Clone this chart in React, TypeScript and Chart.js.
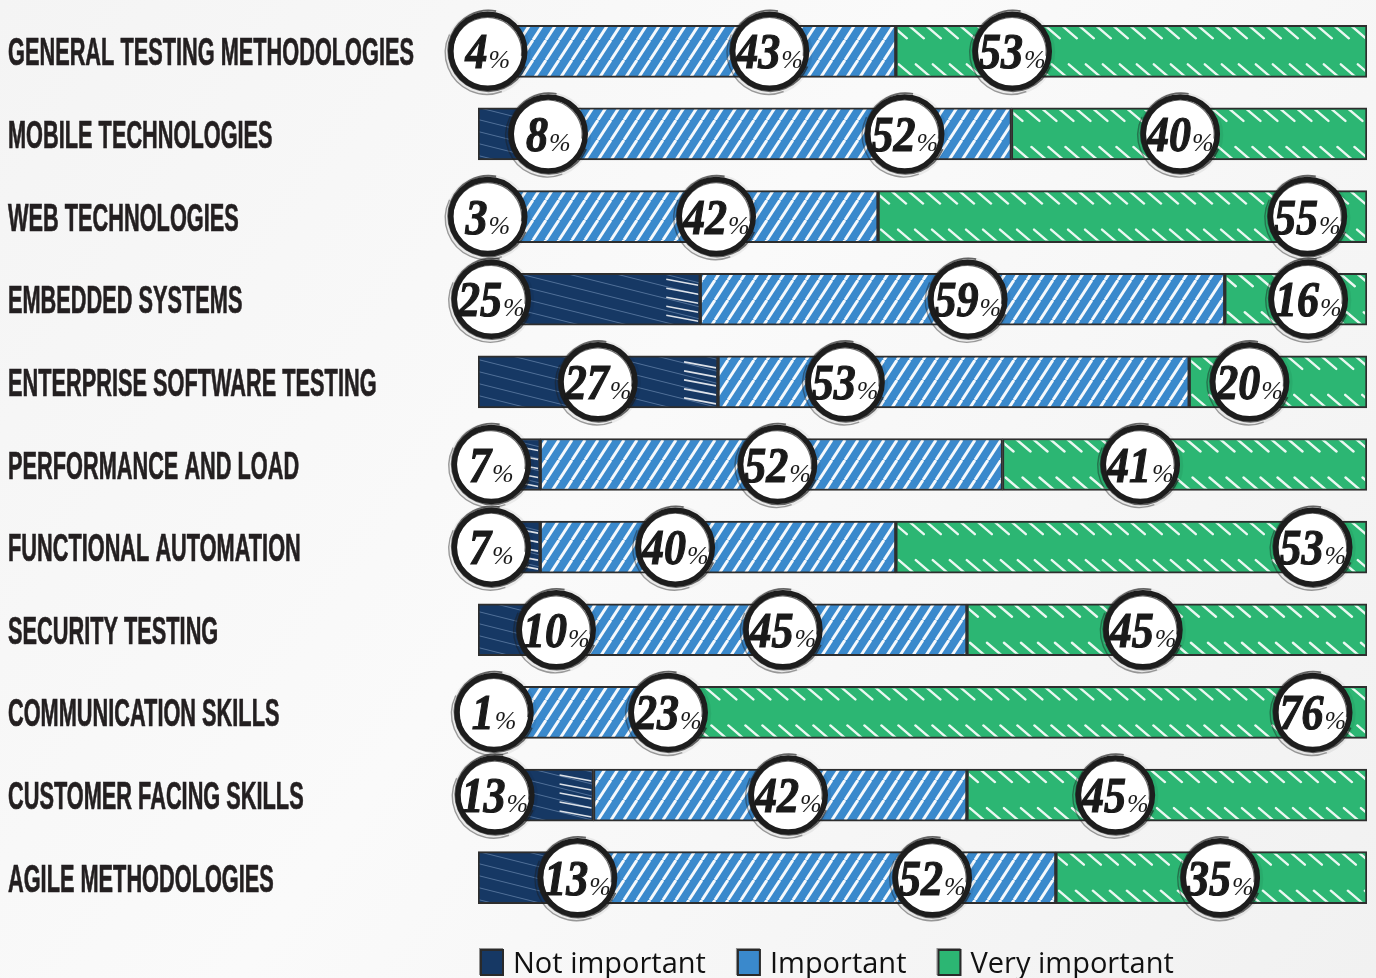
import React, { useEffect, useRef } from "react";
import { Chart, registerables } from "chart.js";

Chart.register(...registerables);

// ---------- data ----------
const categories = [
  "GENERAL TESTING METHODOLOGIES",
  "MOBILE TECHNOLOGIES",
  "WEB TECHNOLOGIES",
  "EMBEDDED SYSTEMS",
  "ENTERPRISE SOFTWARE TESTING",
  "PERFORMANCE AND LOAD",
  "FUNCTIONAL AUTOMATION",
  "SECURITY TESTING",
  "COMMUNICATION SKILLS",
  "CUSTOMER FACING SKILLS",
  "AGILE METHODOLOGIES",
];
const notImportant = [4, 8, 3, 25, 27, 7, 7, 10, 1, 13, 13];
const important = [43, 52, 42, 59, 53, 52, 40, 45, 23, 42, 52];
const veryImportant = [53, 40, 55, 16, 20, 41, 53, 45, 76, 45, 35];
const seriesNames = ["Not important", "Important", "Very important"];
const seriesColors = ["#163864", "#3a89cc", "#2cb673"];
// where each value badge sits along the 0–100 axis
const notBadgeAt = [1.1, 7.9, 1.1, 1.5, 13.5, 1.5, 1.5, 8.8, 1.8, 1.9, 11.2];
const impBadgeAt = [32.8, 48.0, 26.8, 55.1, 41.3, 33.7, 22.2, 34.3, 21.4, 34.9, 51.1];
const veryBadgeAt = [60.1, 79.0, 93.3, 93.4, 86.8, 74.5, 93.9, 74.8, 93.9, 71.7, 83.5];

const W = 1376;
const H = 978;

function makeBluePattern(ctx: CanvasRenderingContext2D) {
  const c = document.createElement("canvas");
  const w = 13, h = 20;
  c.width = w; c.height = h;
  const g = c.getContext("2d")!;
  g.fillStyle = seriesColors[1];
  g.fillRect(0, 0, w, h);
  g.strokeStyle = "rgba(255,255,255,0.95)";
  g.lineWidth = 3;
  for (const dx of [-w, 0, w]) {
    g.beginPath();
    g.moveTo(dx, h);
    g.lineTo(dx + w, 0);
    g.stroke();
  }
  return ctx.createPattern(c, "repeat")!;
}

function makeNavyPattern(ctx: CanvasRenderingContext2D) {
  const c = document.createElement("canvas");
  const w = 48, h = 12;
  c.width = w; c.height = h;
  const g = c.getContext("2d")!;
  g.fillStyle = seriesColors[0];
  g.fillRect(0, 0, w, h);
  g.strokeStyle = "rgba(170,195,230,0.4)";
  g.lineWidth = 1;
  for (const dy of [-h, 0, h]) {
    g.beginPath();
    g.moveTo(0, dy);
    g.lineTo(w, dy + h);
    g.stroke();
  }
  return ctx.createPattern(c, "repeat")!;
}

const decorPlugin = {
  id: "decor",
  beforeDraw(chart: any) {
    const ctx = chart.ctx as CanvasRenderingContext2D;
    ctx.save();
    const gr = ctx.createLinearGradient(0, 0, chart.width, chart.height);
    gr.addColorStop(0, "#f4f4f4");
    gr.addColorStop(0.45, "#fafafa");
    gr.addColorStop(1, "#f1f1f1");
    ctx.fillStyle = gr;
    ctx.fillRect(0, 0, chart.width, chart.height);
    ctx.restore();
  },
  afterDatasetsDraw(chart: any) {
    const ctx = chart.ctx as CanvasRenderingContext2D;
    const xs = chart.scales.x;
    const ys = chart.scales.y;

    // white scribble marks on the right end of navy bars
    const meta0 = chart.getDatasetMeta(0);
    meta0.data.forEach((el: any) => {
      const p = el.getProps(["x", "y", "base", "height"], true);
      const left = Math.min(p.x, p.base), right = Math.max(p.x, p.base);
      const top = p.y - p.height / 2, bottom = p.y + p.height / 2;
      if (right - left < 30) return;
      ctx.save();
      ctx.beginPath();
      ctx.rect(left + 2, top + 2, right - left - 4, bottom - top - 4);
      ctx.clip();
      ctx.strokeStyle = "rgba(255,255,255,0.85)";
      ctx.lineWidth = 1.6;
      for (let y = top + 6; y < bottom - 2; y += 9) {
        ctx.beginPath();
        ctx.moveTo(right - 34, y);
        ctx.lineTo(right - 2, y + 6);
        ctx.stroke();
      }
      ctx.restore();
    });

    // sketchy white strokes on green bars
    const meta2 = chart.getDatasetMeta(2);
    meta2.data.forEach((el: any) => {
      const p = el.getProps(["x", "y", "base", "height"], true);
      const left = Math.min(p.x, p.base), right = Math.max(p.x, p.base);
      const top = p.y - p.height / 2, bottom = p.y + p.height / 2;
      ctx.save();
      ctx.beginPath();
      ctx.rect(left + 2, top + 2, right - left - 4, bottom - top - 4);
      ctx.clip();
      ctx.strokeStyle = "rgba(255,255,255,0.9)";
      ctx.lineWidth = 2.4;
      ctx.lineCap = "round";
      for (let x = left - 20; x < right + 20; x += 17) {
        ctx.beginPath();
        ctx.moveTo(x, top + 1);
        ctx.lineTo(x + 14, top + 13);
        ctx.stroke();
        ctx.beginPath();
        ctx.moveTo(x + 6, bottom - 13);
        ctx.lineTo(x + 20, bottom - 1);
        ctx.stroke();
      }
      ctx.restore();
    });

    // value badges
    const values = [notImportant, important, veryImportant];
    const badges = [notBadgeAt, impBadgeAt, veryBadgeAt];
    const numFont = "bold italic 50px 'Liberation Serif', 'DejaVu Serif', serif";
    const pctFont = "italic 26px 'Liberation Serif', 'DejaVu Serif', serif";
    for (let d = 0; d < 3; d++) {
      for (let i = 0; i < categories.length; i++) {
        const cx = xs.getPixelForValue(badges[d][i]);
        const cy = ys.getPixelForValue(i);
        ctx.save();
        ctx.beginPath();
        ctx.arc(cx, cy + 1, 43, 0, Math.PI * 2);
        ctx.fillStyle = "rgba(0,0,0,0.06)";
        ctx.fill();
        ctx.beginPath();
        ctx.arc(cx, cy, 37, 0, Math.PI * 2);
        ctx.fillStyle = "#ffffff";
        ctx.fill();
        ctx.strokeStyle = "#1d1d1d";
        ctx.lineWidth = 5.5;
        ctx.stroke();
        ctx.globalAlpha = 0.65;
        ctx.lineWidth = 1.8;
        ctx.beginPath();
        ctx.arc(cx + 0.8, cy - 0.5, 40.3, 0.4, 4.9);
        ctx.stroke();
        ctx.lineWidth = 1.2;
        ctx.beginPath();
        ctx.arc(cx - 0.6, cy + 0.6, 34.5, 2.2, 6.4);
        ctx.stroke();
        ctx.globalAlpha = 0.4;
        ctx.lineWidth = 1.4;
        ctx.beginPath();
        ctx.arc(cx - 1, cy + 1.5, 41.5, 1.2, 3.6);
        ctx.stroke();
        ctx.globalAlpha = 1;

        const num = String(values[d][i]);
        ctx.fillStyle = "#1a1a1a";
        ctx.strokeStyle = "#1a1a1a";
        ctx.textBaseline = "alphabetic";
        ctx.font = numFont;
        const nw = ctx.measureText(num).width * 0.88;
        ctx.font = pctFont;
        const pw = ctx.measureText("%").width;
        const total = nw + 1 + pw;
        const sx = cx - total / 2;
        ctx.save();
        ctx.translate(sx, cy + 17);
        ctx.scale(0.88, 1);
        ctx.font = numFont;
        ctx.textAlign = "left";
        ctx.lineWidth = 1.2;
        ctx.fillText(num, 0, 0);
        ctx.strokeText(num, 0, 0);
        ctx.restore();
        ctx.font = pctFont;
        ctx.textAlign = "left";
        ctx.fillText("%", sx + nw + 1, cy + 17);
        ctx.restore();
      }
    }

    // category labels (condensed)
    ctx.save();
    ctx.fillStyle = "#231f20";
    ctx.strokeStyle = "#231f20";
    ctx.lineWidth = 0.7;
    ctx.font = "bold 38px 'Liberation Sans', Arial, sans-serif";
    ctx.textAlign = "left";
    ctx.textBaseline = "alphabetic";
    const maxW = Math.max(...categories.map((c) => ctx.measureText(c).width));
    const labelWidthMax = 406;
    const sc = labelWidthMax / maxW;
    categories.forEach((c, i) => {
      const y = ys.getPixelForValue(i);
      ctx.save();
      ctx.translate(8, y + 14);
      ctx.scale(sc, 1);
      ctx.fillText(c, 0, 0);
      ctx.strokeText(c, 0, 0);
      ctx.restore();
    });
    ctx.restore();

    // legend
    ctx.save();
    const ly = chart.height - 16;
    let lx = chart.chartArea.left + 3;
    ctx.font = "29px 'Open Sans', 'Noto Sans', sans-serif";
    ctx.textBaseline = "alphabetic";
    ctx.textAlign = "left";
    seriesNames.forEach((name, k) => {
      ctx.fillStyle = seriesColors[k];
      ctx.fillRect(lx, ly - 12, 22, 25);
      ctx.strokeStyle = "#2a2a2a";
      ctx.lineWidth = 2;
      ctx.strokeRect(lx, ly - 12, 22, 25);
      ctx.globalAlpha = 0.5;
      ctx.lineWidth = 1;
      ctx.strokeRect(lx - 1.5, ly - 13.5, 23, 26);
      ctx.globalAlpha = 1;
      ctx.fillStyle = "#111111";
      ctx.fillText(name, lx + 32, ly + 11);
      lx += 32 + ctx.measureText(name).width + 32;
    });
    ctx.restore();
  },
};

export default function App() {
  const ref = useRef<HTMLCanvasElement | null>(null);
  useEffect(() => {
    const canvas = ref.current!;
    const ctx = canvas.getContext("2d")!;
    const navy = makeNavyPattern(ctx);
    const blue = makeBluePattern(ctx);
    const chart = new Chart(canvas, {
      type: "bar",
      data: {
        labels: categories,
        datasets: [
          { label: seriesNames[0], data: notImportant, backgroundColor: navy, borderColor: "#2e2e2e", borderWidth: 2, borderSkipped: false, barThickness: 52 },
          { label: seriesNames[1], data: important, backgroundColor: blue, borderColor: "#2e2e2e", borderWidth: 2, borderSkipped: false, barThickness: 52 },
          { label: seriesNames[2], data: veryImportant, backgroundColor: seriesColors[2], borderColor: "#2e2e2e", borderWidth: 2, borderSkipped: false, barThickness: 52 },
        ],
      },
      options: {
        indexAxis: "y",
        responsive: false,
        animation: false,
        devicePixelRatio: 1,
        layout: { padding: { left: 478, right: 9, top: 10, bottom: 59 } },
        scales: {
          x: { stacked: true, min: 0, max: 100, display: false },
          y: { stacked: true, display: false },
        },
        plugins: {
          legend: { display: false },
          tooltip: { enabled: false },
        },
      },
      plugins: [decorPlugin],
    } as any);
    return () => chart.destroy();
  }, []);
  return (
    <div style={{ position: "fixed", left: 0, top: 0, width: W, height: H, overflow: "hidden" }}>
      <canvas ref={ref} width={W} height={H} style={{ width: W, height: H, display: "block" }} />
    </div>
  );
}
